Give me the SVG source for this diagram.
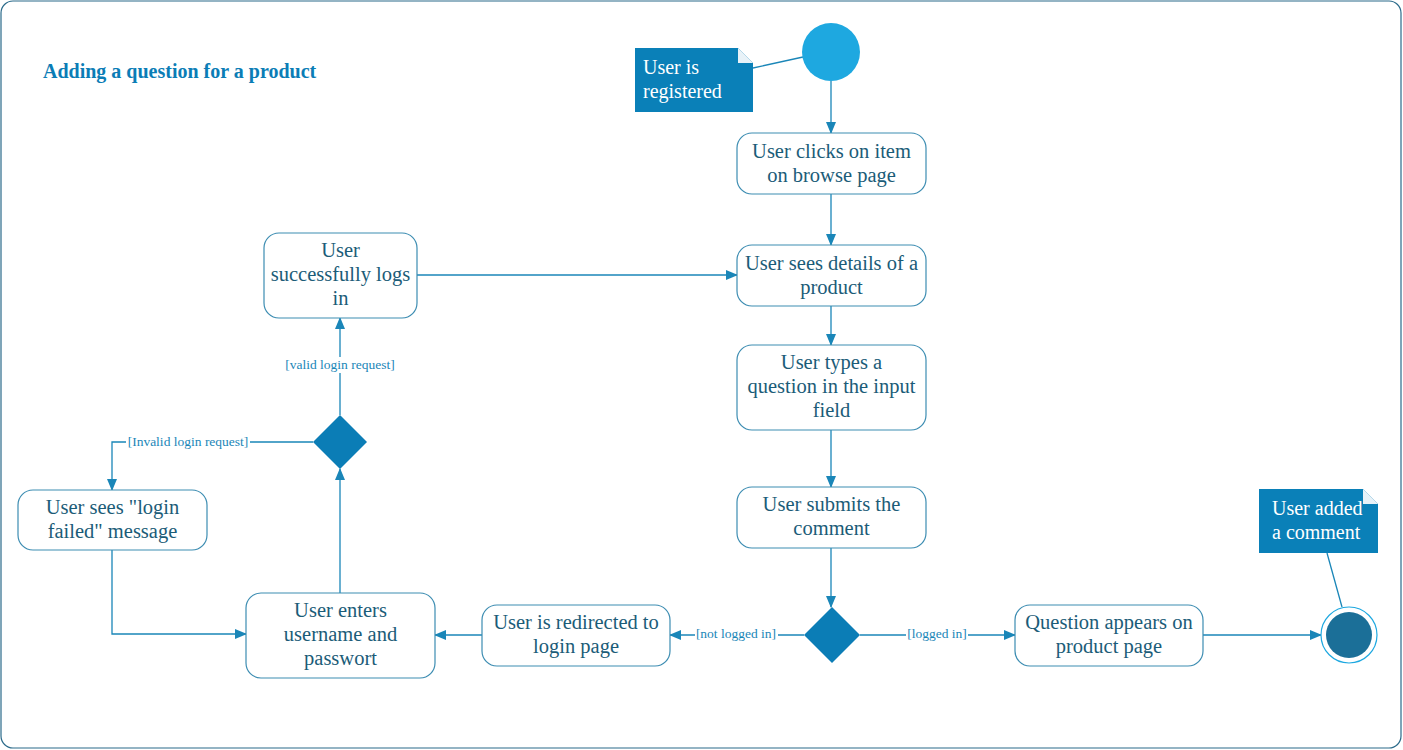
<svg xmlns="http://www.w3.org/2000/svg" width="1403" height="750" viewBox="0 0 1403 750">
<style>
.node rect{fill:#fff;stroke:#3d8db2;stroke-width:1.2}
text{font-family:'Liberation Serif','DejaVu Serif',serif}
.t{font-size:20.5px;fill:#1b5c78;text-anchor:middle}
.lbl{font-size:13.5px;fill:#1a86b8;text-anchor:middle}
.c{fill:none;stroke:#1a86b8;stroke-width:1.3}
.nt{font-size:20px;fill:#fff}
.ttl{font-size:20px;font-weight:bold;fill:#0b7db6}
</style>
<defs>
<marker id="a" markerWidth="12" markerHeight="10" refX="11" refY="5" orient="auto" markerUnits="userSpaceOnUse">
<path d="M0,0 L12,5 L0,10 Z" fill="#1a86b8"/>
</marker>
</defs>
<rect x="1" y="1" width="1400" height="747" rx="12" fill="#fff" stroke="#2a6a8a" stroke-width="1.2"/>
<text class="ttl" x="43" y="78">Adding a question for a product</text>

<g id="connectors">
<path class="c" d="M831,81 V133" marker-end="url(#a)"/>
<path class="c" d="M831,194 V245" marker-end="url(#a)"/>
<path class="c" d="M831,306 V345" marker-end="url(#a)"/>
<path class="c" d="M831,430 V487" marker-end="url(#a)"/>
<path class="c" d="M831,548 V607" marker-end="url(#a)"/>
<path class="c" d="M860,635 H1015" marker-end="url(#a)"/>
<path class="c" d="M1203,635 H1321" marker-end="url(#a)"/>
<path class="c" d="M804,635 H670" marker-end="url(#a)"/>
<path class="c" d="M482,635 H435" marker-end="url(#a)"/>
<path class="c" d="M340,593 V469" marker-end="url(#a)"/>
<path class="c" d="M340,415 V318" marker-end="url(#a)"/>
<path class="c" d="M313,442 H112 V490" marker-end="url(#a)"/>
<path class="c" d="M112,550 V634 H246" marker-end="url(#a)"/>
<path class="c" d="M417,275 H737" marker-end="url(#a)"/>
<path class="c" d="M753,68 L803,57"/>
<path class="c" d="M1327,553 L1342,607"/>
<rect x="906" y="626" width="62" height="16" fill="#fff"/>
<text class="lbl" x="937" y="638">[logged in]</text>
<rect x="695" y="626" width="83" height="16" fill="#fff"/>
<text class="lbl" x="736" y="638">[not logged in]</text>
<rect x="283" y="357" width="115" height="16" fill="#fff"/>
<text class="lbl" x="340" y="369">[valid login request]</text>
<rect x="126" y="434" width="124" height="16" fill="#fff"/>
<text class="lbl" x="188" y="446">[Invalid login request]</text>
</g>

<g id="start"><circle cx="831" cy="52" r="29" fill="#1ea8e0"/></g>
<g id="note1">
<path d="M635,48 H738 L753,63 V112 H635 Z" fill="#0a80b8"/>
<path d="M738,48 V63 H753 Z" fill="#e8f2f8"/>
<text class="nt" x="643" y="74">User is</text>
<text class="nt" x="643" y="98">registered</text>
</g>
<g id="n1" class="node"><rect x="737" y="133" width="189" height="61" rx="15"/>
<text class="t" x="831.5" y="158">User clicks on item</text><text class="t" x="831.5" y="182">on browse page</text></g>
<g id="n2" class="node"><rect x="737" y="245" width="189" height="61" rx="15"/>
<text class="t" x="831.5" y="270">User sees details of a</text><text class="t" x="831.5" y="294">product</text></g>
<g id="n3" class="node"><rect x="737" y="345" width="189" height="85" rx="15"/>
<text class="t" x="831.5" y="369">User types a</text><text class="t" x="831.5" y="393">question in the input</text><text class="t" x="831.5" y="417">field</text></g>
<g id="n4" class="node"><rect x="737" y="487" width="189" height="61" rx="15"/>
<text class="t" x="831.5" y="511">User submits the</text><text class="t" x="831.5" y="535">comment</text></g>
<g id="d1"><path d="M832,607 L860,635 L832,663 L804,635 Z" fill="#0b7db6"/></g>
<g id="n5" class="node"><rect x="1015" y="605" width="188" height="61" rx="15"/>
<text class="t" x="1109" y="629">Question appears on</text><text class="t" x="1109" y="653">product page</text></g>
<g id="end"><circle cx="1349" cy="635" r="28" fill="#fff" stroke="#1ea8e0" stroke-width="1.2"/><circle cx="1349" cy="635" r="23" fill="#1b6f98"/></g>
<g id="note2">
<path d="M1259,489 H1363 L1378,504 V553 H1259 Z" fill="#0a80b8"/>
<path d="M1363,489 V504 H1378 Z" fill="#e8f2f8"/>
<text class="nt" x="1272" y="515">User added</text>
<text class="nt" x="1272" y="539">a comment</text>
</g>
<g id="n6" class="node"><rect x="482" y="605" width="188" height="61" rx="15"/>
<text class="t" x="576" y="629">User is redirected to</text><text class="t" x="576" y="653">login page</text></g>
<g id="n7" class="node"><rect x="246" y="593" width="189" height="85" rx="15"/>
<text class="t" x="340.5" y="617">User enters</text><text class="t" x="340.5" y="641">username and</text><text class="t" x="340.5" y="665">passwort</text></g>
<g id="d2"><path d="M340,415 L367,442 L340,469 L313,442 Z" fill="#0b7db6"/></g>
<g id="n8" class="node"><rect x="264" y="233" width="153" height="85" rx="15"/>
<text class="t" x="340.5" y="257">User</text><text class="t" x="340.5" y="281">successfully logs</text><text class="t" x="340.5" y="305">in</text></g>
<g id="n9" class="node"><rect x="18" y="490" width="189" height="60" rx="15"/>
<text class="t" x="112.5" y="514">User sees "login</text><text class="t" x="112.5" y="538">failed" message</text></g>
</svg>
